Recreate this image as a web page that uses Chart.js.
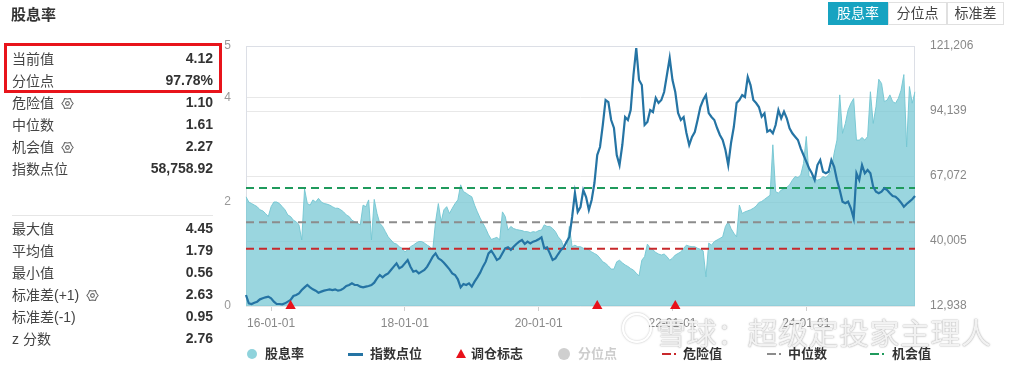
<!DOCTYPE html>
<html lang="zh">
<head>
<meta charset="utf-8">
<title>股息率</title>
<script src="https://cdn.jsdelivr.net/npm/chart.js@4.4.1/dist/chart.umd.min.js"></script>
<style>
  html, body { margin: 0; padding: 0; background: #fff; }
  body { width: 1016px; height: 367px; position: relative; overflow: hidden;
         font-family: 'Liberation Sans', Arial, 'Noto Sans CJK SC', sans-serif; color: #333; }
  #wrap { position: absolute; left: 0; top: 0; width: 1016px; height: 367px; }
  .title { position: absolute; left: 11px; top: 3px; font-size: 15px; font-weight: bold; color: #333; }
  .hl { position: absolute; left: 4px; top: 43px; width: 218px; height: 50px;
        border: 3px solid #e8141b; box-sizing: border-box; }
  .rows { position: absolute; left: 12px; width: 201px; }
  .row { display: flex; justify-content: space-between; align-items: center;
         height: 22px; font-size: 14px; color: #444; }
  .row b { color: #333; }
  .row svg { margin-left: 7px; vertical-align: -2px; }
  .sep { position: absolute; left: 12px; top: 215px; width: 201px; height: 1px; background: #e6e6e6; }
  .tabs { position: absolute; left: 828px; top: 2px; display: flex; }
  .tabs span { box-sizing: border-box; height: 23px; line-height: 21px; text-align: center;
               border: 1px solid #e0e0e0; font-size: 14px; color: #444; }
  .tabs span.on { background: #17a3c1; border-color: #17a3c1; color: #fff; }
  .legend { position: absolute; left: 0; top: 346px; width: 1016px; height: 16px;
            font-size: 13px; font-weight: bold; color: #333; }
  .legend > * { position: absolute; }
  .legend .txt { top: 0; line-height: 16px; }
  .mark-dot { border-radius: 50%; }
  .mark-tri { width: 0; height: 0; border-left: 5px solid transparent; border-right: 5px solid transparent;
              border-bottom: 9px solid #e8111a; }
  .wm { position: absolute; left: 656px; top: 309px; font-size: 30px; letter-spacing: 0.5px;
        font-family: 'Noto Sans CJK SC', sans-serif; color: rgba(255,255,255,0.88);
        text-shadow: 0 0 1px rgba(90,90,90,0.55), 0 0 2px rgba(90,90,90,0.35); pointer-events: none; }
  .wm-logo { position: absolute; left: 622px; top: 313px; width: 26px; height: 26px; border-radius: 50%;
             border: 2px solid rgba(255,255,255,0.9); box-shadow: 0 0 2px rgba(90,90,90,0.5), inset 0 0 2px rgba(90,90,90,0.4); }
</style>
</head>
<body>
<div id="wrap"><canvas id="yieldChart"></canvas></div>

<div class="title">股息率</div>
<div class="hl"></div>
<div class="rows" style="top:47px">
  <div class="row"><span>当前值</span><b>4.12</b></div>
  <div class="row"><span>分位点</span><b>97.78%</b></div>
  <div class="row"><span>危险值<svg class="gear" width="13" height="13" viewBox="0 0 16 16"></svg></span><b>1.10</b></div>
  <div class="row"><span>中位数</span><b>1.61</b></div>
  <div class="row"><span>机会值<svg class="gear" width="13" height="13" viewBox="0 0 16 16"></svg></span><b>2.27</b></div>
  <div class="row"><span>指数点位</span><b>58,758.92</b></div>
</div>
<div class="sep"></div>
<div class="rows" style="top:217px">
  <div class="row"><span>最大值</span><b>4.45</b></div>
  <div class="row"><span>平均值</span><b>1.79</b></div>
  <div class="row"><span>最小值</span><b>0.56</b></div>
  <div class="row"><span>标准差(+1)<svg class="gear" width="13" height="13" viewBox="0 0 16 16"></svg></span><b>2.63</b></div>
  <div class="row"><span>标准差(-1)</span><b>0.95</b></div>
  <div class="row"><span>z 分数</span><b>2.76</b></div>
</div>

<div class="tabs">
  <span class="on" style="width:60px">股息率</span>
  <span style="width:59px">分位点</span>
  <span style="width:57px">标准差</span>
</div>

<div class="legend">
  <span class="mark-dot" style="left:247px;top:3px;width:10px;height:10px;background:#8fd3dc"></span>
  <span class="txt" style="left:265px">股息率</span>
  <span style="left:348px;top:7px;width:15px;height:3px;background:#2574a4"></span>
  <span class="txt" style="left:370px">指数点位</span>
  <span class="mark-tri" style="left:456px;top:3px"></span>
  <span class="txt" style="left:471px">调仓标志</span>
  <span class="mark-dot" style="left:558px;top:2px;width:12px;height:12px;background:#cfcfcf"></span>
  <span class="txt" style="left:578px;color:#cdcdcd">分位点</span>
  <span style="left:662px;top:7px;width:9px;height:2px;background:#c8282b"></span>
  <span style="left:674px;top:7px;width:2px;height:2px;background:#c8282b"></span>
  <span class="txt" style="left:683px">危险值</span>
  <span style="left:767px;top:7px;width:9px;height:2px;background:#8c8c8c"></span>
  <span style="left:779px;top:7px;width:2px;height:2px;background:#8c8c8c"></span>
  <span class="txt" style="left:788px">中位数</span>
  <span style="left:870px;top:7px;width:9px;height:2px;background:#1f9a5c"></span>
  <span style="left:882px;top:7px;width:2px;height:2px;background:#1f9a5c"></span>
  <span class="txt" style="left:892px">机会值</span>
</div>

<div class="wm-logo"></div>
<div class="wm">雪球：超级定投家主理人</div>

<script>
"use strict";

// ─── Data ──────────────────────────────────────────────────
// semi-monthly samples, 2015-08-15 … 2025-08-15
const FIRST_DATE = "2015-08-15";
const LAST_DATE  = "2025-08-15";

const DIVIDEND_YIELD = [
  2.10, 2.00, 1.97, 1.94, 1.91, 1.85, 1.83, 1.78, 1.72, 1.91,
  2.00, 2.00, 1.97, 1.91, 1.85, 1.75, 1.72, 1.65, 1.62, 1.56,
  1.27, 2.25, 1.97, 1.94, 2.04, 2.00, 2.07, 2.00, 1.97, 1.96,
  1.94, 1.91, 1.88, 1.88, 1.85, 1.81, 1.75, 1.72, 1.65, 1.62,
  1.59, 1.56, 1.94, 1.91, 2.04, 1.27, 2.05, 1.78, 1.59, 1.53,
  1.43, 1.33, 1.27, 1.21, 1.19, 1.14, 1.11, 1.04, 1.08, 1.14,
  1.17, 1.21, 1.24, 1.24, 1.21, 1.17, 1.14, 1.08, 1.62, 1.97,
  1.62, 1.85, 1.91, 1.78, 1.88, 1.97, 2.04, 2.33, 2.20, 2.17,
  2.13, 2.10, 1.94, 1.81, 1.69, 1.59, 1.49, 1.37, 1.28, 1.30,
  1.32, 1.27, 1.81, 1.72, 1.46, 1.53, 1.49, 1.47, 1.46, 1.45,
  1.43, 1.43, 1.41, 1.43, 1.42, 1.45, 1.46, 1.56, 1.53, 1.53,
  1.49, 1.43, 1.33, 1.27, 1.14, 1.08, 1.53, 1.14, 1.17, 1.14,
  1.14, 1.11, 1.11, 1.08, 1.04, 1.01, 0.98, 0.92, 0.85, 0.82,
  0.77, 0.71, 0.71, 0.85, 0.88, 0.83, 0.79, 0.76, 0.72, 0.69,
  0.63, 0.58, 0.88, 0.95, 1.19, 1.11, 1.08, 1.03, 1.00, 0.98,
  1.00, 0.95, 0.88, 0.92, 0.98, 1.01, 1.04, 1.11, 1.17, 1.15,
  1.14, 1.14, 1.11, 1.09, 1.06, 0.56, 1.21, 1.17, 1.24, 1.27,
  1.30, 1.33, 1.53, 1.62, 1.49, 1.40, 1.33, 1.94, 1.78, 1.81,
  1.83, 1.85, 1.88, 1.92, 1.99, 2.01, 2.05, 2.09, 2.13, 3.10,
  2.20, 2.17, 2.23, 2.25, 2.28, 2.33, 2.42, 2.49, 2.47, 2.52,
  2.74, 3.26, 2.49, 2.47, 2.44, 2.42, 2.44, 2.49, 2.47, 2.52,
  2.62, 2.94, 3.19, 4.06, 3.32, 3.51, 3.77, 3.90, 3.99, 3.19,
  3.19, 3.24, 3.19, 3.26, 4.12, 3.51, 3.83, 4.36, 4.28, 3.93,
  3.96, 4.06, 3.93, 3.90, 3.99, 4.15, 4.45, 3.06, 4.22, 3.90,
  4.12,
];

const INDEX_LEVEL = [
  17520, 14050, 13770, 14330, 14740, 15710, 16130, 16550, 16820, 16130,
  14740, 13770, 13770, 13630, 14050, 14740, 15440, 17100, 17520, 18210,
  19600, 20710, 21680, 20710, 19880, 19320, 18490, 18910, 19320, 19600,
  19880, 19600, 19880, 19320, 19600, 20290, 21270, 21680, 22380, 21680,
  21680, 20990, 20710, 20990, 21270, 21680, 22650, 24460, 25850, 24870,
  25850, 26540, 27930, 29320, 30700, 28620, 29320, 30700, 32090, 29320,
  27230, 27650, 26540, 27230, 27930, 29320, 31400, 33480, 34870, 32790,
  32090, 30980, 29590, 28210, 26540, 25850, 24040, 20710, 22100, 21680,
  22380, 20990, 23070, 24870, 26820, 29320, 31400, 34870, 35980, 34170,
  32090, 32790, 34870, 36950, 37370, 36260, 37640, 38760, 39730, 40420,
  38760, 39730, 39030, 39730, 40140, 40700, 41530, 36950, 37370, 34870,
  32090, 32790, 34590, 36260, 37370, 39730, 41670, 50000, 59990, 52080,
  54160, 61240, 58330, 52910, 57080, 64160, 75810, 79150, 88310, 98720,
  97880, 90390, 87060, 75810, 71650, 79980, 91640, 90390, 94550, 109130,
  120370, 107040, 104960, 88310, 89560, 94550, 93720, 99550, 97470, 98720,
  102050, 109130, 116210, 107040, 102050, 93300, 90390, 91640, 84980, 79980,
  83310, 85390, 90390, 95800, 98720, 100800, 93300, 91640, 90390, 87060,
  84140, 82060, 77900, 71650, 80810, 87470, 97470, 98720, 100800, 99970,
  108290, 104960, 98720, 97470, 95800, 91760, 93180, 85520, 86220, 84850,
  88310, 94550, 91100, 93850, 91100, 86930, 84850, 83440, 82060, 78600,
  75810, 73030, 70280, 68190, 65400, 71650, 73730, 68860, 68190, 68860,
  73730, 70940, 65400, 61240, 56370, 55700, 56370, 53620, 49460, 68190,
  65400, 71650, 68190, 69570, 68190, 62620, 60530, 59870, 60530, 61950,
  61240, 59870, 58740, 58450, 57370, 55950, 54290, 55410, 56370, 57370,
  58760,
];

const REBALANCE_DATES = ["2016-04-15", "2020-11-15", "2022-01-15"];
const X_TICK_DATES    = ["2016-01-01", "2018-01-01", "2020-01-01", "2022-01-01", "2024-01-01"];
const LEFT_TICKS      = [0, 2, 4, 5];
const RIGHT_TICKS     = [12938, 40005, 67072, 94139, 121206];

const DANGER_VALUE = 1.10;
const MEDIAN_VALUE = 1.61;
const CHANCE_VALUE = 2.27;

// date labels on the 1st and 15th of each month
function buildDates() {
  const out = [];
  const pad = n => String(n).padStart(2, "0");
  for (let y = 2015; y <= 2025; y++) {
    for (let m = 1; m <= 12; m++) {
      for (const d of [1, 15]) {
        const s = `${y}-${pad(m)}-${pad(d)}`;
        if (s >= FIRST_DATE && s <= LAST_DATE) out.push(s);
      }
    }
  }
  return out;
}
const DATES = buildDates();

// ─── Gear icons ────────────────────────────────────────────
document.querySelectorAll("svg.gear").forEach(svg => {
  svg.innerHTML =
    '<polygon points="15,8 12.8,10.8 11.5,14.1 8,13.5 4.5,14.1 3.2,10.8 1,8 3.2,5.2 4.5,1.9 8,2.5 11.5,1.9 12.8,5.2" ' +
    'fill="none" stroke="#666" stroke-width="1.3" stroke-linejoin="round"/>' +
    '<circle cx="8" cy="8" r="2.3" fill="none" stroke="#666" stroke-width="1.3"/>';
});

// ─── Chart ─────────────────────────────────────────────────
Chart.defaults.font.family = "'Liberation Sans', Arial, sans-serif";
Chart.defaults.animation = false;

function refLine(label, value, color) {
  return {
    label,
    data: [{ x: DATES[0], y: value }, { x: DATES[DATES.length - 1], y: value }],
    yAxisID: "y",
    borderColor: color,
    borderWidth: 2,
    borderDash: [8, 5],
    pointRadius: 0,
    fill: false,
    order: 2,
  };
}

// light frame around the plot area
const framePlugin = {
  id: "frame",
  beforeDatasetsDraw(chart) {
    const { ctx, chartArea: a } = chart;
    ctx.save();
    ctx.strokeStyle = "#dcdfe6";
    ctx.lineWidth = 1;
    ctx.strokeRect(a.left + 0.5, a.top + 0.5, a.width - 1, a.height - 1);
    ctx.restore();
  },
};

new Chart(document.getElementById("yieldChart"), {
  type: "line",
  data: {
    labels: DATES,
    datasets: [
      {
        label: "调仓标志",
        data: REBALANCE_DATES.map(d => ({ x: d, y: 0 })),
        yAxisID: "y",
        showLine: false,
        pointStyle: "triangle",
        pointRadius: 6,
        pointBackgroundColor: "#e8111a",
        pointBorderWidth: 0,
        clip: false,
        order: 0,
      },
      {
        label: "指数点位",
        data: INDEX_LEVEL,
        yAxisID: "y1",
        borderColor: "#2574a4",
        borderWidth: 2.2,
        pointRadius: 0,
        fill: false,
        order: 1,
      },
      refLine("危险值", DANGER_VALUE, "#c8282b"),
      refLine("中位数", MEDIAN_VALUE, "#8c8c8c"),
      refLine("机会值", CHANCE_VALUE, "#1f9a5c"),
      {
        label: "股息率",
        data: DIVIDEND_YIELD,
        yAxisID: "y",
        borderColor: "rgba(118,199,211,0.95)",
        backgroundColor: "rgba(120,200,212,0.75)",
        borderWidth: 1,
        pointRadius: 0,
        fill: "origin",
        order: 3,
      },
    ],
  },
  options: {
    responsive: true,
    maintainAspectRatio: false,
    layout: { padding: { left: 222, top: 46, right: 0, bottom: 0 } },
    plugins: { legend: { display: false }, tooltip: { enabled: false } },
    scales: {
      x: {
        type: "category",
        offset: false,
        grid: { drawOnChartArea: false, drawTicks: true, tickLength: 5, color: "#cfcfcf" },
        border: { display: false },
        ticks: {
          autoSkip: false, maxRotation: 0, padding: 5,
          color: "#888", font: { size: 12 },
          callback(v) { return this.getLabelForValue(v).slice(2); },
        },
        afterBuildTicks(s) { s.ticks = s.ticks.filter(t => X_TICK_DATES.includes(DATES[t.value])); },
        afterFit(s) { s.height = 61; },
      },
      y: {
        position: "left",
        min: 0, max: 5,
        grid: { color: "#e8e8e8", drawTicks: false },
        border: { display: false },
        ticks: { color: "#999", font: { size: 12 }, padding: 15 },
        afterBuildTicks(s) { s.ticks = LEFT_TICKS.map(v => ({ value: v })); },
        afterFit(s) { s.width = 24; },
      },
      y1: {
        position: "right",
        min: RIGHT_TICKS[0], max: RIGHT_TICKS[RIGHT_TICKS.length - 1],
        grid: { color: "#e8e8e8", drawTicks: false },
        border: { display: false },
        ticks: {
          color: "#888", font: { size: 12 }, padding: 15,
          callback: v => v.toLocaleString("en-US"),
        },
        afterBuildTicks(s) { s.ticks = RIGHT_TICKS.map(v => ({ value: v })); },
        afterFit(s) { s.width = 101; },
      },
    },
  },
  plugins: [framePlugin],
});
</script>
</body>
</html>
